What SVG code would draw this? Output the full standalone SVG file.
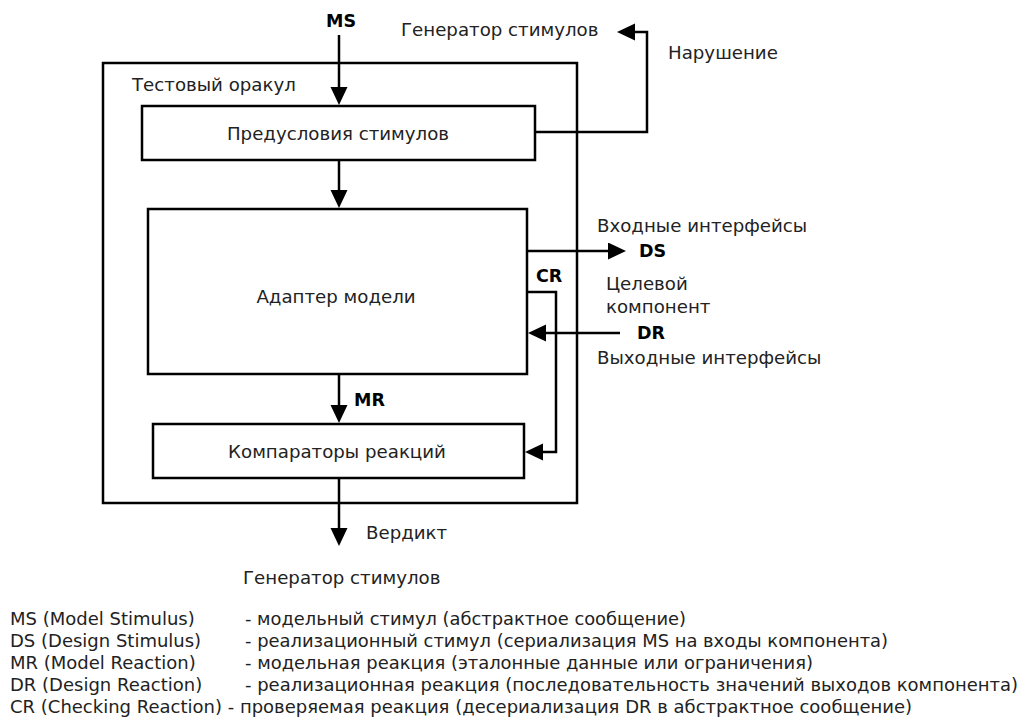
<svg xmlns="http://www.w3.org/2000/svg" width="1024" height="722" viewBox="0 0 1024 722">
<style>
.box{fill:none;stroke:#000;stroke-width:2.5}
.c{fill:none;stroke:#000;stroke-width:2.5}
.t{font-family:"DejaVu Sans",sans-serif;font-size:18.2px;fill:#222}
.m{text-anchor:middle}
.b{font-family:"DejaVu Sans",sans-serif;font-size:17.5px;font-weight:bold;fill:#000}
.lg{font-family:"DejaVu Sans",sans-serif;font-size:18px;fill:#222}
</style>
<defs>
<marker id="ah" markerUnits="userSpaceOnUse" markerWidth="19" markerHeight="18" refX="10" refY="8.5" orient="auto">
<path d="M0,0 L18,8.5 L0,17 z" fill="#000"/>
</marker>
</defs>
<rect width="1024" height="722" fill="#fff"/>
<g id="oracle">
<rect class="box" x="103" y="63" width="474" height="440"/>
<text class="t" x="132" y="91">Тестовый оракул</text>
</g>
<g id="preconditions">
<rect class="box" x="142" y="106" width="393" height="54"/>
<text class="t m" x="338" y="139.5">Предусловия стимулов</text>
</g>
<g id="adapter">
<rect class="box" x="148" y="209" width="379" height="165"/>
<text class="t m" x="336" y="302.5">Адаптер модели</text>
</g>
<g id="comparators">
<rect class="box" x="153" y="424" width="371" height="54"/>
<text class="t m" x="337" y="458">Компараторы реакций</text>
</g>
<g id="labels">
<text class="b m" x="341" y="27">MS</text>
<text class="t" x="401" y="36">Генератор стимулов</text>
<text class="t" x="668" y="59">Нарушение</text>
<text class="t" x="597" y="231.5">Входные интерфейсы</text>
<text class="b" x="639" y="257">DS</text>
<text class="b" x="536" y="282">CR</text>
<text class="t" x="606" y="290">Целевой</text>
<text class="t" x="606" y="312.5">компонент</text>
<text class="b" x="637" y="339">DR</text>
<text class="t" x="597" y="363.5">Выходные интерфейсы</text>
<text class="b" x="354" y="406">MR</text>
<text class="t" x="366" y="539">Вердикт</text>
<text class="t" x="243" y="584">Генератор стимулов</text>
</g>
<g id="connectors">
<path class="c" d="M339,35 V97" marker-end="url(#ah)"/>
<path class="c" d="M339,160 V200" marker-end="url(#ah)"/>
<path class="c" d="M339,374 V415" marker-end="url(#ah)"/>
<path class="c" d="M339,478 V538" marker-end="url(#ah)"/>
<path class="c" d="M535,132 H647 V32 H625" marker-end="url(#ah)"/>
<path class="c" d="M527,251 H618" marker-end="url(#ah)"/>
<path class="c" d="M620,333 H536" marker-end="url(#ah)"/>
<path class="c" d="M527,292 H556 V452 H533" marker-end="url(#ah)"/>
</g>
<g id="legend">
<text class="lg" x="10" y="625">MS (Model Stimulus)</text>
<text class="lg" x="245" y="625" textLength="441" lengthAdjust="spacingAndGlyphs">- модельный стимул (абстрактное сообщение)</text>
<text class="lg" x="10" y="647">DS (Design Stimulus)</text>
<text class="lg" x="245" y="647" textLength="643" lengthAdjust="spacingAndGlyphs">- реализационный стимул (сериализация MS на входы компонента)</text>
<text class="lg" x="10" y="669">MR (Model Reaction)</text>
<text class="lg" x="245" y="669" textLength="568" lengthAdjust="spacingAndGlyphs">- модельная реакция (эталонные данные или ограничения)</text>
<text class="lg" x="10" y="691">DR (Design Reaction)</text>
<text class="lg" x="245" y="691" textLength="773" lengthAdjust="spacingAndGlyphs">- реализационная реакция (последовательность значений выходов компонента)</text>
<text class="lg" x="10" y="713">CR (Checking Reaction) - проверяемая реакция (десериализация DR в абстрактное сообщение)</text>
</g>
</svg>
